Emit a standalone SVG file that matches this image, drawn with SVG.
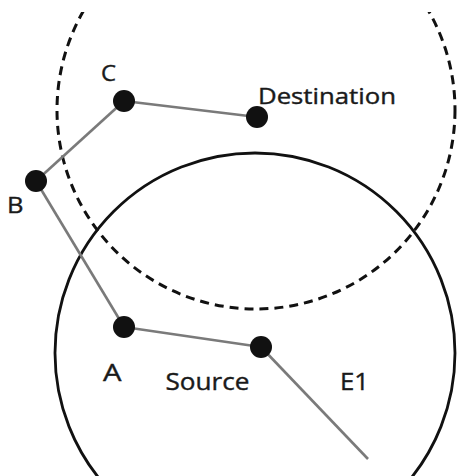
<svg xmlns="http://www.w3.org/2000/svg" width="457" height="476" viewBox="0 0 457 476">
<defs>
<clipPath id="clipTop"><rect x="0" y="12" width="457" height="464"/></clipPath>
<style>
.dashed{fill:none;stroke:#111;stroke-width:3;stroke-dasharray:9 6}
.solid{fill:none;stroke:#111;stroke-width:2.8}
.link{stroke:#7a7a7a;stroke-width:2.6;fill:none}
.node{fill:#111}
.lbl{font-family:"Open Sans","DejaVu Sans",sans-serif;font-size:22px;fill:#1a1a1a;stroke:#1a1a1a;stroke-width:0.4}
.lbl2{font-family:"Open Sans","DejaVu Sans",sans-serif;font-size:24.5px;fill:#1a1a1a;stroke:#1a1a1a;stroke-width:0.4}
</style>
</defs>
<rect width="457" height="476" fill="#fff"/>
<g id="ranges">
<circle class="dashed" cx="256" cy="110" r="199" clip-path="url(#clipTop)"/>
<circle class="solid" cx="255" cy="353" r="200"/>
</g>
<g id="connectors">
<line class="link" x1="124" y1="101" x2="257" y2="117"/>
<line class="link" x1="124" y1="101" x2="36" y2="181"/>
<line class="link" x1="36" y1="181" x2="124" y2="327"/>
<line class="link" x1="124" y1="327" x2="261" y2="347"/>
<line class="link" x1="261" y1="347" x2="368" y2="459"/>
</g>
<g id="node-C"><circle class="node" cx="124" cy="101" r="11"/><text class="lbl" x="101" y="81" textLength="15" lengthAdjust="spacingAndGlyphs">C</text></g>
<g id="node-Destination"><circle class="node" cx="257" cy="117" r="11"/><text class="lbl" x="258" y="103.5" textLength="138" lengthAdjust="spacingAndGlyphs">Destination</text></g>
<g id="node-B"><circle class="node" cx="36" cy="181" r="11"/><text class="lbl" x="7" y="212.5" textLength="16.5" lengthAdjust="spacingAndGlyphs">B</text></g>
<g id="node-A"><circle class="node" cx="124" cy="327" r="11"/><text class="lbl2" x="103" y="380.5" textLength="18.5" lengthAdjust="spacingAndGlyphs">A</text></g>
<g id="node-Source"><circle class="node" cx="261" cy="347" r="11"/><text class="lbl2" x="165.5" y="390" textLength="84" lengthAdjust="spacingAndGlyphs">Source</text></g>
<g id="label-E1"><text class="lbl2" x="340" y="390" textLength="29" lengthAdjust="spacingAndGlyphs">E1</text></g>
</svg>
